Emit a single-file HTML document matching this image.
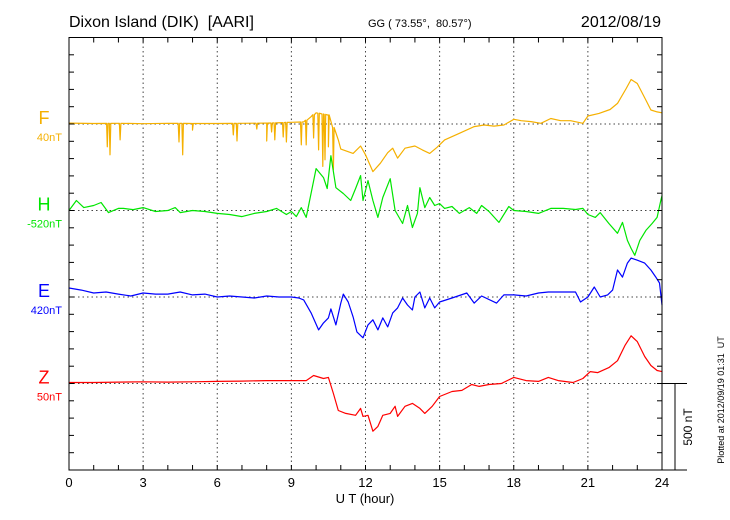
<!DOCTYPE html>
<html><head><meta charset="utf-8"><style>
body{margin:0;background:#fff;}
svg{display:block;font-family:"Liberation Sans",sans-serif;}
text{white-space:pre;}
</style></head><body>
<svg id="chart" width="730" height="520" viewBox="0 0 730 520">
<text x="69" y="27" font-size="16">Dixon Island (DIK)  [AARI]</text>
<text x="368" y="27" font-size="11">GG ( 73.55°,  80.57°)</text>
<text x="661" y="27" font-size="16" text-anchor="end">2012/08/19</text>
<text x="365" y="503" font-size="13" text-anchor="middle">U T (hour)</text>
<text transform="translate(724,400) rotate(-90)" font-size="9" text-anchor="middle">Plotted at 2012/09/19 01:31  UT</text>
<text transform="translate(692,427) rotate(-90)" font-size="12" text-anchor="middle">500 nT</text>
<g id="grid"></g><g id="series"></g><g id="axes"></g><g id="labels"></g>
</svg>
<script>
const hourTicks=[0,3,6,9,12,15,18,21,24];
const compNames=["F","H","E","Z"];
const compBaseLabels=["40nT","-520nT","420nT","50nT"];
const compColors=["#f5b000","#00e600","#0000ff","#ff0000"];
const scaleBarNT=500;
const fTimes=[0,1,2,3,4,5,6,7,8,9,9.5,9.8,10,10.5,10.9,11,11.5,11.8,12,12.3,12.6,12.9,13.1,13.3,13.6,14,14.3,14.6,14.9,15.2,15.8,16.4,16.8,17.2,17.6,18,18.3,18.7,19.1,19.5,19.9,20.3,20.8,21,21.45,21.9,22.2,22.55,22.75,23,23.35,23.55,23.8,24];
const fValues=[5,3,4,2,4,3,3,4,5,10,12,42,65,52,-92,-145,-170,-127,-178,-275,-227,-166,-140,-197,-140,-127,-150,-170,-134,-92,-54,-15,-6,-12,-6,27,19,14,4,32,19,19,4,46,61,84,119,205,257,234,138,81,70,65];
const fSpikeTimes=[1.55,1.66,2.07,4.45,4.6,5.0,6.65,6.8,7.6,8.0,8.2,8.33,8.67,8.8,9.4,9.6,9.9,10.1,10.27,10.36,10.5,10.7];
const fSpikeValues=[-132,-178,-92,-104,-178,-35,-63,-98,-29,-98,-46,-92,-75,-104,-121,-121,-81,-150,-245,-207,-132,-265];
const hTimes=[0,0.3,0.6,1,1.3,1.6,2,2.2,2.6,3,3.5,4,4.3,4.5,5,5.5,6,6.5,7,7.5,8,8.4,8.8,9,9.2,9.4,9.6,10,10.3,10.45,10.6,10.8,11.1,11.4,11.6,11.8,11.9,12.1,12.3,12.5,12.7,13,13.2,13.5,13.7,13.9,14.1,14.2,14.4,14.6,14.8,15,15.2,15.5,15.8,16.2,16.5,16.7,17,17.4,17.8,18,18.5,19,19.5,20,20.5,20.8,21,21.3,21.5,21.85,22.2,22.4,22.6,22.75,22.9,23.1,23.35,23.6,23.8,23.95,24];
const hValues=[0,58,17,29,46,-12,12,12,5,17,-6,0,17,-12,0,-6,-17,-23,-35,-17,-6,12,-23,-6,-35,17,-40,242,190,127,317,132,98,58,127,202,58,173,58,-40,75,184,0,-75,29,-98,-17,132,17,75,29,40,12,23,-17,17,-17,29,-6,-69,23,0,-6,-17,12,12,6,12,-23,-40,-12,-75,-132,-69,-173,-219,-259,-173,-115,-75,-40,58,86];
const eTimes=[0,0.5,1,1.5,2,2.5,3,3.5,4,4.5,5,5.5,6,6.5,7,7.5,8,8.5,9,9.3,9.5,9.8,10.1,10.3,10.5,10.6,10.8,11,11.1,11.3,11.5,11.65,11.9,12.1,12.3,12.5,12.7,12.9,13.1,13.3,13.5,13.7,13.9,14,14.2,14.4,14.6,14.8,15,15.5,16.1,16.4,16.7,17.3,17.6,18,18.5,19,19.4,20,20.5,20.7,21,21.26,21.5,21.8,22,22.2,22.4,22.6,22.75,23,23.3,23.55,23.75,23.9,24];
const eValues=[52,40,23,29,17,6,23,17,17,29,12,17,0,6,0,-6,6,0,0,-6,-17,-92,-190,-150,-121,-69,-161,-35,17,-29,-115,-202,-236,-161,-132,-190,-121,-173,-92,-63,-6,-46,-75,0,29,-63,-6,-63,-29,-6,23,-35,6,-35,12,12,6,23,29,29,29,-29,0,58,0,12,40,156,115,196,225,213,196,156,115,81,-46];
const zTimes=[0,1,2,3,4,5,6,7,8,8.6,9,9.6,9.9,10.3,10.5,10.7,10.9,11.2,11.6,11.8,11.9,12.1,12.3,12.5,12.7,13,13.2,13.3,13.6,13.9,14.2,14.4,14.7,15,15.5,15.9,16.3,16.6,17,17.5,18,18.5,19,19.4,19.8,20.4,20.8,21.1,21.4,21.85,22.2,22.5,22.75,23,23.3,23.55,23.8,24];
const zValues=[6,6,8,10,8,10,12,14,17,17,17,17,46,29,35,-58,-156,-173,-184,-144,-190,-184,-276,-248,-184,-173,-132,-190,-132,-115,-144,-173,-132,-75,-46,-40,-6,-17,-6,0,35,17,12,35,17,6,29,69,63,92,132,219,276,242,156,104,75,69];

const NS="http://www.w3.org/2000/svg";
const X0=69,X1=662,Y0=37.5,Y1=470,PXNT=17.3/100;
const baselines=[124,210.5,297,383.5];
const xs=h=>X0+(X1-X0)*h/24;
const ys=(i,v)=>baselines[i]-v*PXNT;
function mk(tag,parent){const e=document.createElementNS(NS,tag);document.getElementById(parent).appendChild(e);return e;}
hourTicks.forEach(h=>{if(h>0&&h<24){const l=mk("line","grid");


l.setAttribute("x1",xs(h));l.setAttribute("x2",xs(h));l.setAttribute("y1",Y0);l.setAttribute("y2",Y1);
l.setAttribute("stroke","#444");l.setAttribute("stroke-dasharray","1.5,3");}});
baselines.forEach((b,i)=>{const l=mk("line","grid");


l.setAttribute("x1",X0);l.setAttribute("x2",X1);l.setAttribute("y1",b);l.setAttribute("y2",b);
l.setAttribute("stroke","#444");l.setAttribute("stroke-dasharray","1.5,3");});
function drawSeries(i,times,vals,name){let pts=times.map((t,k)=>[t,vals[k]]);
 if(i===0){fSpikeTimes.forEach((t,k)=>{let b=0;for(let j=0;j<times.length-1;j++){if(t>=times[j]&&t<=times[j+1]){b=vals[j]+(vals[j+1]-vals[j])*(t-times[j])/(times[j+1]-times[j]);}}
  pts.push([t-0.03,b],[t,fSpikeValues[k]],[t+0.03,b]);});pts.sort((a,b)=>a[0]-b[0]);}
 const p=mk("polyline","series");
 
 
 p.setAttribute("points",pts.map(q=>xs(q[0]).toFixed(1)+","+ys(i,q[1]).toFixed(1)).join(" "));
 p.setAttribute("fill","none");p.setAttribute("stroke",compColors[i]);p.setAttribute("stroke-width","1.2");p.setAttribute("stroke-linejoin","round");}
drawSeries(0,fTimes,fValues,"f-series-line");
drawSeries(1,hTimes,hValues,"h-series-line");
drawSeries(2,eTimes,eValues,"e-series-line");
drawSeries(3,zTimes,zValues,"z-series-line");
const frame=mk("rect","axes");


frame.setAttribute("x",X0);frame.setAttribute("y",Y0);frame.setAttribute("width",X1-X0);frame.setAttribute("height",Y1-Y0);frame.setAttribute("fill","none");frame.setAttribute("stroke","#000");
function seg(x1,y1,x2,y2,name){const l=mk("line","axes");
 
 
 l.setAttribute("x1",x1);l.setAttribute("y1",y1);l.setAttribute("x2",x2);l.setAttribute("y2",y2);l.setAttribute("stroke","#000");}
for(let h=1;h<24;h++){seg(xs(h),Y0,xs(h),Y0+5,"x-tick-top");seg(xs(h),Y1,xs(h),Y1-5,"x-tick-bottom");}
for(let k=1;k<25;k++){const y=Y0+k*17.3;seg(X0,y,X0+5,y,"y-tick-left");seg(X1,y,X1-5,y,"y-tick-right");}
seg(X1,Y1,687,Y1,"bottom-axis-extension");
seg(X1,baselines[3],687,baselines[3],"scale-bar-top");
seg(675,baselines[3],675,baselines[3]+scaleBarNT*PXNT,"scale-bar");
hourTicks.forEach(h=>{const t=mk("text","labels");
 
 
 t.setAttribute("x",xs(h));t.setAttribute("y",487);t.setAttribute("font-size","13");t.setAttribute("text-anchor","middle");t.textContent=h;});
compNames.forEach((n,i)=>{const t=mk("text","labels");
 
 
 t.setAttribute("x",44);t.setAttribute("y",baselines[i]);t.setAttribute("font-size","18");t.setAttribute("text-anchor","middle");t.setAttribute("fill",compColors[i]);t.textContent=n;
 const s=mk("text","labels");
 
 
 s.setAttribute("x",62);s.setAttribute("y",baselines[i]+17);s.setAttribute("font-size","11");s.setAttribute("text-anchor","end");s.setAttribute("fill",compColors[i]);s.textContent=compBaseLabels[i];});
</script>
</body></html>
